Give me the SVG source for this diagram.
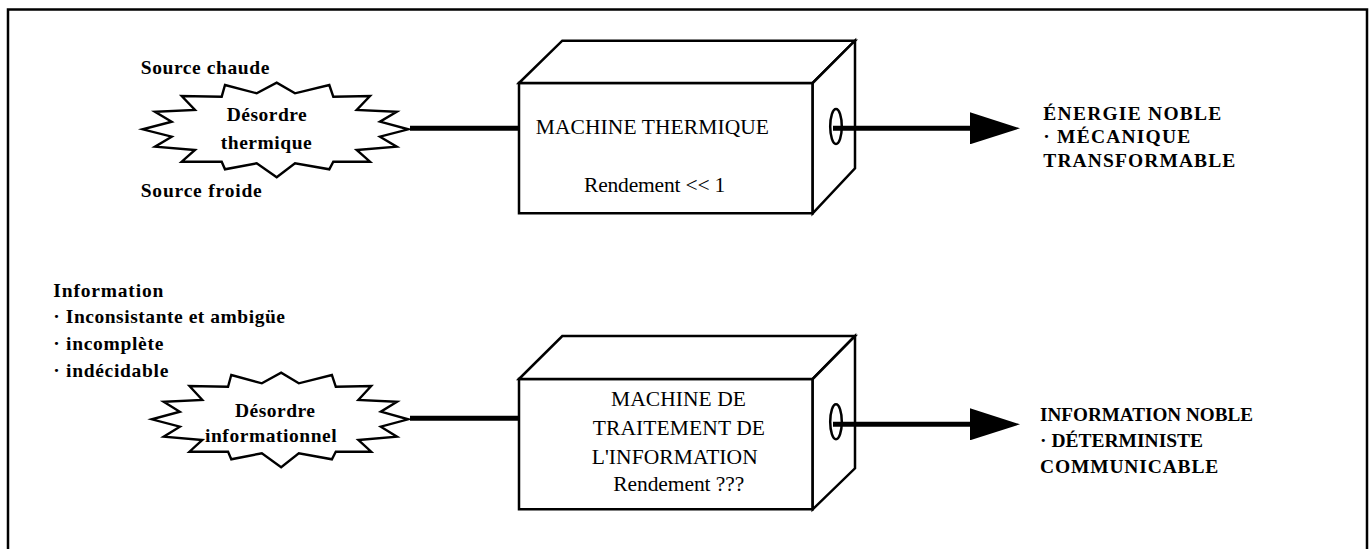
<svg xmlns="http://www.w3.org/2000/svg" width="1369" height="549" viewBox="0 0 1369 549">
<style>
.frame{fill:none;stroke:#000;stroke-width:2.5}
.box{fill:#fff;stroke:#000;stroke-width:2.5;stroke-linejoin:miter}
.star{fill:#fff;stroke:#000;stroke-width:2.4;stroke-linejoin:miter}
.hole{fill:#fff;stroke:#000;stroke-width:2.5}
.wire{stroke:#000;stroke-width:5;fill:none}
.b{font-family:"Liberation Serif","Times New Roman",serif;font-weight:bold;font-size:19.5px;fill:#000}
.r{font-family:"Liberation Serif","Times New Roman",serif;font-size:21.5px;fill:#000}
</style>
<defs>
<path id="starShape" d="M-50.5,-45 L-18.8,-36.7 L1.2,-47.3 L19.5,-36.7 L53.8,-45 L57.8,-33.3 L94.5,-34 L81.2,-20 L121.2,-18.3 L104.5,-8.3 L132.8,-0.7 L104.5,6.7 L121.2,16.7 L81.2,20 L94.5,31.7 L57.8,31.7 L53.8,39.3 L19.5,33.3 L1.2,47.3 L-18.8,33.3 L-50.5,39.3 L-53.8,31.7 L-93.8,31.7 L-80.5,20 L-120.5,16.7 L-103.8,6.7 L-132.8,-0.7 L-103.8,-8.3 L-120.5,-18.3 L-80.5,-20 L-93.8,-34 L-53.8,-33.3 Z"/>
<marker id="arrow" markerUnits="userSpaceOnUse" viewBox="0 0 50 32" markerWidth="50" markerHeight="32" refX="2" refY="16" orient="auto">
<path d="M0,0 L50,16 L0,32 Z" fill="#000"/>
</marker>
</defs>
<path class="frame" d="M8,552 V9.5 H1367 V552"/>

<g id="star-thermique">
<use href="#starShape" class="star" transform="translate(275.5,130)"/>
<text class="b" x="226.7" y="121" textLength="80" lengthAdjust="spacing">Désordre</text>
<text class="b" x="220.7" y="149" textLength="91" lengthAdjust="spacing">thermique</text>
</g>
<g id="label-sources">
<text class="b" x="140.7" y="74.3" textLength="128.6" lengthAdjust="spacing">Source chaude</text>
<text class="b" x="140.7" y="196.7" textLength="121" lengthAdjust="spacing">Source froide</text>
</g>

<g id="machine-thermique">
<path class="box" d="M519,83 H812.7 V213.3 H519 Z"/>
<path class="box" d="M519,83 L562.3,40.7 H855 L812.7,83 Z"/>
<path class="box" d="M812.7,83 L855,40.7 V168.3 L812.7,213.3 Z"/>
<ellipse class="hole" cx="836" cy="126.5" rx="5.8" ry="17.5"/>
<text class="r" x="535.7" y="134" textLength="233.3" lengthAdjust="spacing">MACHINE THERMIQUE</text>
<text class="r" x="584" y="192.3" textLength="141.3" lengthAdjust="spacing">Rendement &lt;&lt; 1</text>
</g>

<g id="energie-noble">
<text class="b" x="1043.3" y="120" textLength="178" lengthAdjust="spacing">ÉNERGIE NOBLE</text>
<text class="b" x="1043.3" y="143.3" textLength="147" lengthAdjust="spacing">· MÉCANIQUE</text>
<text class="b" x="1043.3" y="166.7" textLength="192" lengthAdjust="spacing">TRANSFORMABLE</text>
</g>

<g id="information-list">
<text class="b" x="53.3" y="296.7" textLength="110" lengthAdjust="spacing">Information</text>
<text class="b" x="53.3" y="323.3" textLength="231.7" lengthAdjust="spacing">· Inconsistante et ambigüe</text>
<text class="b" x="53.3" y="350" textLength="110" lengthAdjust="spacing">· incomplète</text>
<text class="b" x="53.3" y="377" textLength="115" lengthAdjust="spacing">· indécidable</text>
</g>

<g id="star-informationnel">
<use href="#starShape" class="star" transform="translate(280,420) scale(0.965,1)"/>
<text class="b" x="235" y="416.7" textLength="80" lengthAdjust="spacing">Désordre</text>
<text class="b" x="205" y="441.7" textLength="131.7" lengthAdjust="spacing">informationnel</text>
</g>

<g id="machine-information">
<path class="box" d="M519,379 H812.7 V509.3 H519 Z"/>
<path class="box" d="M519,379 L562.3,336 H855 L812.7,379 Z"/>
<path class="box" d="M812.7,379 L855,336 V468.3 L812.7,509.3 Z"/>
<ellipse class="hole" cx="836" cy="421.7" rx="5.8" ry="17.5"/>
<text class="r" x="611" y="406" textLength="135" lengthAdjust="spacing">MACHINE DE</text>
<text class="r" x="592.7" y="435" textLength="172.3" lengthAdjust="spacing">TRAITEMENT DE</text>
<text class="r" x="591.7" y="464.3" textLength="166" lengthAdjust="spacing">L'INFORMATION</text>
<text class="r" x="613.3" y="490.7" textLength="131" lengthAdjust="spacing">Rendement ???</text>
</g>

<g id="information-noble">
<text class="b" x="1040" y="420.7" textLength="213" lengthAdjust="spacingAndGlyphs">INFORMATION NOBLE</text>
<text class="b" x="1040" y="446.7">· DÉTERMINISTE</text>
<text class="b" x="1040" y="472.7" textLength="178.3" lengthAdjust="spacing">COMMUNICABLE</text>
</g>

<g id="connectors">
<line class="wire" x1="410" y1="128.3" x2="519" y2="128.3"/>
<line class="wire" x1="833" y1="128.3" x2="972" y2="128.3" marker-end="url(#arrow)"/>
<line class="wire" x1="410" y1="418.3" x2="519" y2="418.3"/>
<line class="wire" x1="833" y1="424.3" x2="972" y2="424.3" marker-end="url(#arrow)"/>
</g>
</svg>
